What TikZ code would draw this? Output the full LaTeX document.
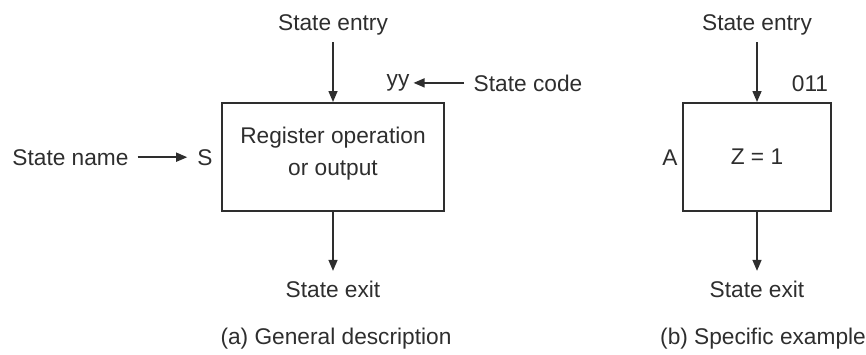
\documentclass[tikz,border=0pt]{standalone}
\usepackage{fontspec}
\setmainfont{Liberation Sans}
\usetikzlibrary{arrows.meta}
\definecolor{ink}{gray}{0.18}
\tikzset{
  txt/.style={inner sep=0pt, anchor=base, text=ink, font=\fontsize{22.7}{32}\selectfont},
  stbox/.style={draw=ink, line width=2pt, inner sep=0pt, text=ink, font=\fontsize{22.7}{32}\selectfont},
  arr/.style={draw=ink, line width=1.5pt, -{Triangle[length=11pt,width=9pt]}}
}
\begin{document}
\begin{tikzpicture}[x=1pt,y=-1pt]
\useasboundingbox (0,0) rectangle (866,354);
% (a) general description
\node[stbox, minimum width=222pt, minimum height=108pt] (boxa) at (333,157) {};
\node[txt, anchor=center, align=center] (opa) at (333,154) {Register operation\\or output};
\node[txt] (entA) at (333,30.5) {State entry};
\node[txt] (yy) at (398,86) {yy};
\node[txt] (scode) at (528,91) {State code};
\node[txt] (sname) at (70.5,165) {State name};
\node[txt] (S) at (205,165) {S};
\node[txt] (exitA) at (333,297) {State exit};
\node[txt] (capA) at (336,344) {(a) General description};
\draw[arr, shorten <=7pt] (entA.south) -- (boxa.north);
\draw[arr, shorten >=9.5pt] (boxa.south) -- (exitA.north);
\draw[arr, shorten <=9pt, shorten >=10pt] (sname.east) -- (S.west);
\draw[arr, shorten <=9.5pt, shorten >=4pt] (scode.west) -- (yy.east |- scode.west);
% (b) specific example
\node[stbox, minimum width=148pt, minimum height=108pt] (boxb) at (757,157) {Z = 1};
\node[txt] (entB) at (757,30.5) {State entry};
\node[txt] (codeB) at (810,91) {011};
\node[txt] (A) at (670,165) {A};
\node[txt] (exitB) at (757,297) {State exit};
\node[txt] (capB) at (763,344) {(b) Specific example};
\draw[arr, shorten <=7pt] (entB.south) -- (boxb.north);
\draw[arr, shorten >=9.5pt] (boxb.south) -- (exitB.north);
\end{tikzpicture}
\end{document}
